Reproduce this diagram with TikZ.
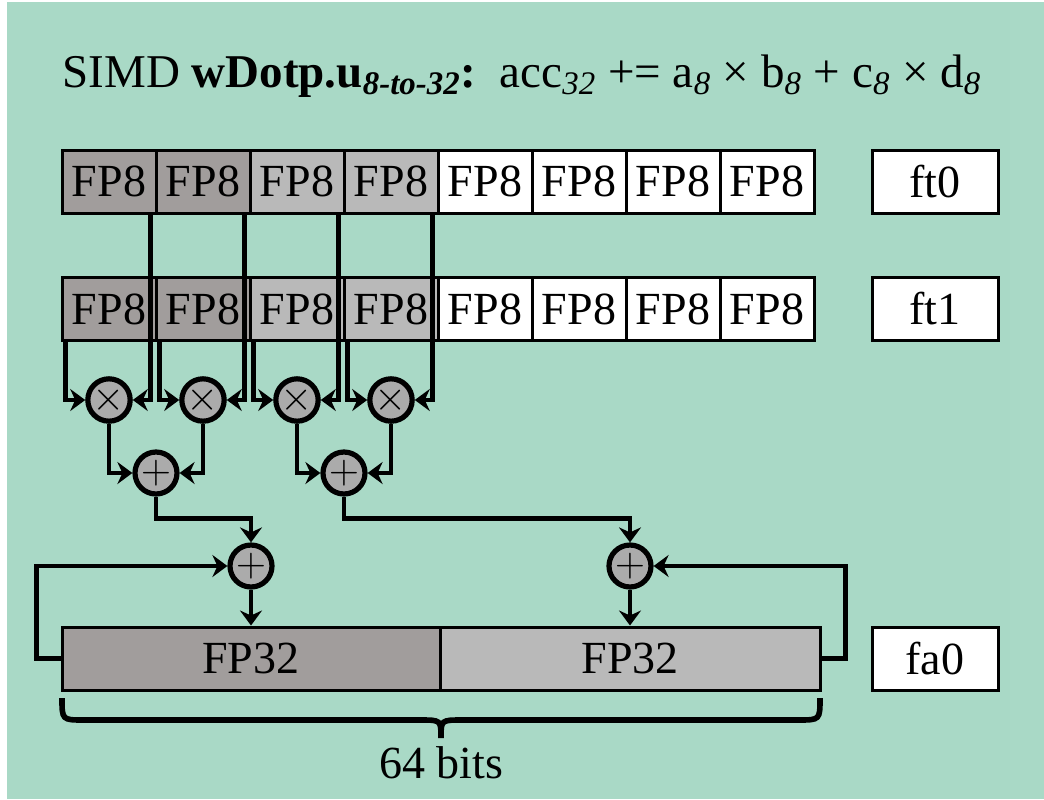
\documentclass[tikz,border=0pt]{standalone}
\usepackage{fontspec}
\setmainfont{Liberation Serif}
\usetikzlibrary{arrows.meta, positioning}
\definecolor{bgteal}{HTML}{A9D9C6}
\definecolor{dkgray}{HTML}{A19D9C}
\definecolor{ltgray}{HTML}{B9B9B9}
\definecolor{opgray}{HTML}{ABABAB}

\begin{document}
\begin{tikzpicture}[
  x=0.5pt, y=-0.5pt,
  wire/.style={-{Stealth[length=7.5pt, width=11pt, inset=2.5pt]}, line width=2.2pt},
  cell/.style={draw, line width=1.5pt, minimum width=47pt, minimum height=31.5pt,
               inner sep=0pt, font=\fontsize{23}{27}\selectfont},
  reg/.style={cell, fill=white, minimum width=63pt},
  op/.style={circle, draw, fill=opgray, line width=2.6pt, minimum size=21pt,
             inner sep=0pt, font=\fontsize{21}{21}\selectfont},
  lbl/.style={font=\fontsize{23}{27}\selectfont},
]

%% Background
\useasboundingbox (0,0) rectangle (1044,799);
\fill[bgteal] (7,2) rectangle (1044,799);

%% Title
\node[lbl, font=\fontsize{23.5}{28}\selectfont] (title) at (522,76)
  {SIMD \textbf{wDotp.u}\textsubscript{\textbf{\textit{8-to-32}}}\textbf{:}\ \ acc\textsubscript{\textit{32}} += a\textsubscript{\textit{8}} × b\textsubscript{\textit{8}} + c\textsubscript{\textit{8}} × d\textsubscript{\textit{8}}};

%% Source registers ft0 / ft1
\foreach \i/\shade in {0/dkgray, 1/dkgray, 2/ltgray, 3/ltgray,
                       4/white, 5/white, 6/white, 7/white} {
  \node[cell, fill=\shade] (top\i) at (109+94*\i, 181.5) {FP8};
  \node[cell, fill=\shade] (bot\i) at (109+94*\i, 309) {FP8};
}
\node[reg] (ft0) at (935,181.5) {ft0};
\node[reg] (ft1) at (935,309) {ft1};

%% Multipliers
\foreach \i in {0,...,3} {
  \node[op] (mul\i) at (109+94*\i, 400) {$\times$};
  \draw[wire] ([xshift=-3.5pt]top\i.south east) |- (mul\i.east);
  \draw[wire] ([xshift=2.5pt]bot\i.south west) |- (mul\i.west);
}

%% First adder stage
\node[op] (add0) at (156,473) {$+$};
\node[op] (add1) at (344,473) {$+$};
\draw[wire] (mul0.south) |- (add0.west);
\draw[wire] (mul1.south) |- (add0.east);
\draw[wire] (mul2.south) |- (add1.west);
\draw[wire] (mul3.south) |- (add1.east);

%% Accumulate
\node[op] (acc0) at (251,566) {$+$};
\node[op] (acc1) at (630,566) {$+$};
\draw[wire] (add0.south) -- ++(0,22) -| (acc0.north);
\draw[wire] (add1.south) -- ++(0,22) -| (acc1.north);

%% Destination fa0
\node[cell, fill=dkgray, minimum width=189pt] (lo) at (251,658.5) {FP32};
\node[cell, fill=ltgray, minimum width=190pt] (hi) at (630,658.5) {FP32};
\node[reg] (fa0) at (935,658.5) {fa0};

\draw[wire] (acc0.south) -- (acc0.south |- lo.north);
\draw[wire] (acc1.south) -- (acc1.south |- hi.north);
\draw[wire] (lo.west) -- ++(-24,0) |- (acc0.west);
\draw[wire] (hi.east) -- ++(24,0) |- (acc1.east);

%% Width brace
\draw[line width=2.8pt]
  (62,698) .. controls (62,720) .. (84,720) -- (420,720)
  .. controls (441,720) .. (441,738) .. controls (441,720) .. (462,720)
  -- (798,720) .. controls (820,720) .. (820,698);
\node[lbl] (bits) at (441,763) {64 bits};

\end{tikzpicture}
\end{document}
